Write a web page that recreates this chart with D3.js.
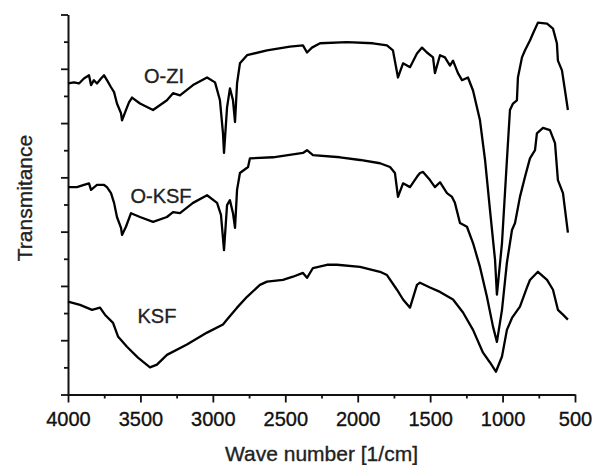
<!DOCTYPE html>
<html>
<head>
<meta charset="utf-8">
<script src="https://cdn.jsdelivr.net/npm/d3@7"></script>
<style>
html,body{margin:0;padding:0;background:#fff;}
svg{display:block;}
</style>
</head>
<body>
<div id="chart"></div>
<script>
// FTIR spectra, [wavenumber (1/cm), transmittance (a.u.)]
var oziData=[
	[4000,5.73],[3959,5.75],[3924,5.73],[3890,5.82],[3855,5.88],[3841,5.70],[3821,5.79],[3800,5.73],
	[3772,5.82],[3751,5.88],[3731,5.79],[3703,5.66],[3682,5.57],[3662,5.36],[3634,5.18],[3627,5.05],
	[3600,5.24],[3579,5.38],[3558,5.47],[3503,5.36],[3413,5.24],[3317,5.42],[3275,5.55],[3227,5.51],
	[3137,5.70],[3040,5.84],[2985,5.75],[2951,5.42],[2930,4.81],[2923,4.45],[2902,5.29],[2882,5.64],
	[2861,5.42],[2847,5.02],[2833,5.73],[2813,6.10],[2764,6.25],[2626,6.34],[2468,6.41],[2378,6.43],
	[2350,6.30],[2316,6.39],[2260,6.47],[2074,6.49],[1895,6.47],[1798,6.43],[1757,6.34],[1722,5.84],
	[1687,6.10],[1639,6.03],[1591,6.28],[1556,6.39],[1522,6.30],[1480,6.21],[1467,5.92],[1432,6.25],
	[1398,6.21],[1363,6.06],[1342,6.15],[1308,5.92],[1280,5.79],[1239,5.84],[1204,5.60],[1156,5.05],
	[1121,4.32],[1087,3.40],[1052,2.48],[1039,1.84],[1004,2.79],[970,4.32],[949,5.24],[928,5.36],
	[901,5.42],[894,5.84],[866,6.21],[845,6.34],[811,6.52],[790,6.65],[756,6.85],[693,6.83],
	[652,6.74],[625,6.47],[618,6.15],[590,5.97],[569,5.60],[549,5.24]
];
var oksfData=[
	[4000,3.82],[3938,3.82],[3890,3.86],[3855,3.89],[3841,3.77],[3800,3.86],[3751,3.86],[3731,3.82],
	[3703,3.71],[3682,3.53],[3662,3.27],[3634,3.07],[3627,2.94],[3600,3.09],[3565,3.34],[3503,3.27],
	[3413,3.18],[3317,3.27],[3275,3.36],[3227,3.34],[3137,3.53],[3040,3.67],[2971,3.53],[2944,3.31],
	[2923,2.66],[2902,3.49],[2882,3.58],[2861,3.34],[2847,3.07],[2833,3.77],[2813,4.08],[2757,4.19],
	[2744,4.35],[2585,4.37],[2378,4.45],[2350,4.50],[2309,4.41],[2122,4.37],[1984,4.32],[1846,4.26],
	[1777,4.19],[1743,4.08],[1722,3.64],[1687,3.89],[1639,3.82],[1591,4.01],[1570,4.08],[1549,4.10],
	[1501,3.95],[1467,3.82],[1432,3.91],[1384,3.71],[1349,3.64],[1329,3.53],[1294,3.16],[1246,3.09],
	[1204,2.79],[1156,2.35],[1108,1.80],[1066,1.25],[1039,0.97],[1004,1.56],[970,2.43],[935,3.03],
	[914,3.16],[880,3.64],[845,4.01],[811,4.35],[776,4.50],[763,4.81],[721,4.91],[673,4.87],
	[638,4.63],[618,3.95],[583,3.71],[549,2.98]
];
var ksfData=[
	[4000,1.71],[3917,1.65],[3834,1.56],[3779,1.60],[3745,1.47],[3689,1.32],[3655,1.07],[3593,0.88],
	[3517,0.68],[3434,0.50],[3386,0.55],[3317,0.73],[3179,0.92],[3040,1.14],[2930,1.29],[2902,1.38],
	[2833,1.60],[2764,1.80],[2675,2.02],[2626,2.08],[2516,2.11],[2447,2.17],[2378,2.24],[2350,2.15],
	[2309,2.33],[2212,2.39],[2143,2.39],[1984,2.35],[1846,2.26],[1798,2.20],[1729,1.93],[1687,1.75],
	[1639,1.60],[1591,2.02],[1570,2.06],[1501,1.97],[1432,1.89],[1342,1.75],[1273,1.51],[1204,1.19],
	[1135,0.77],[1087,0.59],[1046,0.42],[1004,0.70],[970,1.19],[935,1.41],[880,1.62],[832,1.97],
	[811,2.11],[756,2.26],[693,2.11],[652,1.93],[618,1.56],[583,1.47],[549,1.38]
];
var seriesNames=['O-ZI','O-KSF','KSF'];
// label anchor for each series, [wavenumber, transmittance]
var labelPos=[[3337,5.73],[3358,3.53],[3386,1.32]];
var xMajor=[4000,3500,3000,2500,2000,1500,1000,500];
var xMinor=[3750,3250,2750,2250,1750,1250,750];
var yMajor=[0,1,2,3,4,5,6,7];
var yMinor=[0.5,1.5,2.5,3.5,4.5,5.5,6.5];

var W=595,H=465;
var font='"Liberation Sans",Arial,Helvetica,sans-serif';

var oSvg=d3.select('#chart').append('svg')
	.attr('width',W).attr('height',H)
	.attr('font-family',font);

var x=d3.scaleLinear().domain([4000,500]).range([68,575]);
var y=d3.scaleLinear().domain([0,7]).range([394.5,14.5]);

//---------------------------axes---------------------------
var gx=oSvg.append('g').attr('transform','translate(0,'+y(0)+')');
gx.call(d3.axisBottom(x).tickValues(xMajor).tickSize(8).tickSizeOuter(0).tickPadding(9).tickFormat(d3.format('d')));
gx.append('g').call(d3.axisBottom(x).tickValues(xMinor).tickSize(4).tickFormat(''))
	.select('.domain').remove();

var gy=oSvg.append('g').attr('transform','translate('+x(4000)+',0)');
gy.call(d3.axisLeft(y).tickValues(yMajor).tickSize(7).tickSizeOuter(0).tickFormat(''));
gy.append('g').call(d3.axisLeft(y).tickValues(yMinor).tickSize(4).tickFormat(''))
	.select('.domain').remove();

oSvg.selectAll('.domain').attr('stroke','#111').attr('stroke-width',2);
oSvg.selectAll('.tick line').attr('stroke','#111').attr('stroke-width',1.8);
gx.selectAll('.tick text')
	.attr('font-size','20px').attr('font-family',font).attr('fill','#111')
	.attr('stroke','#111').attr('stroke-width',0.35);

//---------------------------curves---------------------------
var line=d3.line()
	.x(function(d){return x(d[0])})
	.y(function(d){return y(d[1])});

[oziData,oksfData,ksfData].forEach(function(arr){
	oSvg.append('path').datum(arr)
		.attr('d',line)
		.attr('fill','none')
		.attr('stroke','#000')
		.attr('stroke-width',2.3)
		.attr('stroke-linejoin','round');
});

seriesNames.forEach(function(name,i){
	oSvg.append('text')
		.attr('x',x(labelPos[i][0]))
		.attr('y',y(labelPos[i][1]))
		.attr('text-anchor','middle')
		.attr('font-size','20px')
		.attr('fill','#222')
		.attr('stroke','#222').attr('stroke-width',0.35)
		.text(name);
});

//---------------------------titles---------------------------
oSvg.append('text')
	.attr('x',(x(4000)+x(500))/2)
	.attr('y',461)
	.attr('text-anchor','middle')
	.attr('font-size','21px')
	.attr('fill','#222')
	.attr('stroke','#222').attr('stroke-width',0.35)
	.text('Wave number [1/cm]');

oSvg.append('text')
	.attr('transform','translate(32,198) rotate(-90)')
	.attr('text-anchor','middle')
	.attr('font-size','21px')
	.attr('fill','#222')
	.attr('stroke','#222').attr('stroke-width',0.35)
	.text('Transmitance');
</script>
</body>
</html>
